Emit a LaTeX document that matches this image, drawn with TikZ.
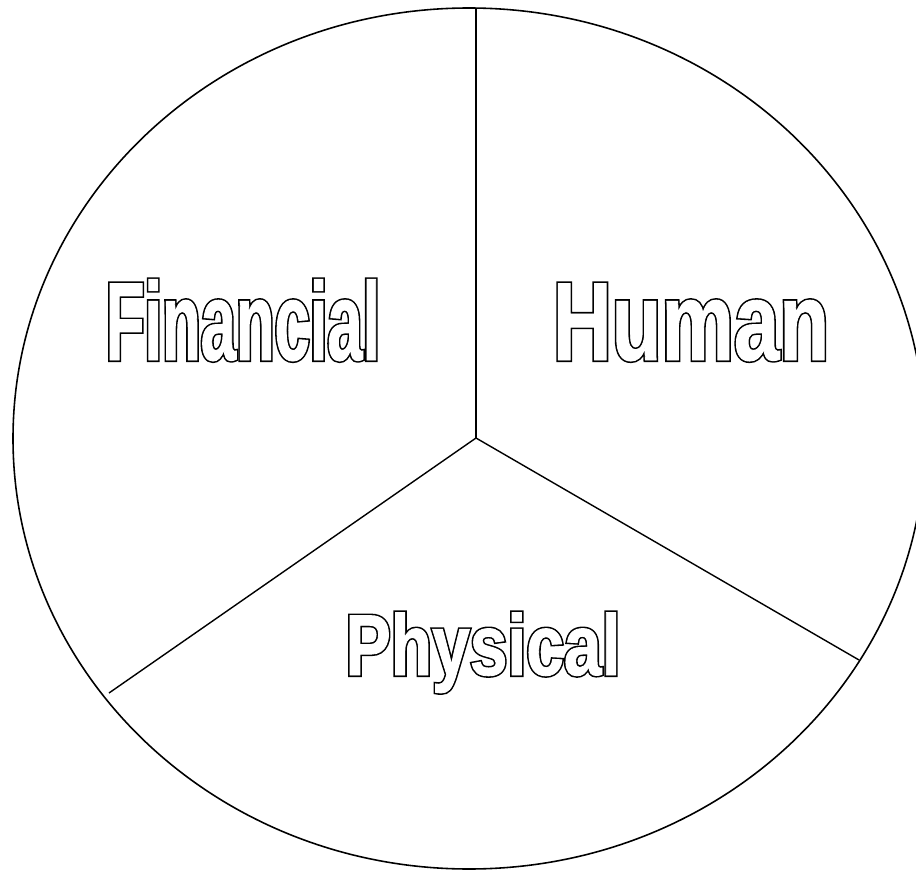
\documentclass[tikz,border=0pt]{standalone}
\usepackage{fontspec}
\usetikzlibrary{shapes,positioning}
\newfontfamily\finfont[FakeStretch=0.569]{Liberation Sans Bold}
\newfontfamily\humfont[FakeStretch=0.733]{Liberation Sans Bold}
\newfontfamily\phyfont[FakeStretch=0.785]{Liberation Sans Bold}
% outlined letters: thick black stroke, then white fill on top
\newcommand{\hollowtext}[1]{\rlap{\special{pdf:code 1 Tr 2.3 w}#1}{\color{white}\special{pdf:code 2 Tr 0.5 w}#1}\special{pdf:code 0 Tr}}

\tikzset{
  capital/.style={inner sep=0pt, anchor=base, text=black},
  spoke/.style={draw=black, line width=0.8pt}
}

\begin{document}
\begin{tikzpicture}[x=0.02cm, y=-0.02cm]
\useasboundingbox (0,0) rectangle (916,871);

\node[draw, ellipse, line width=0.9pt, minimum width=912*0.02cm, minimum height=861*0.02cm, inner sep=0pt] (wheel) at (469,438.5) {};

\coordinate (hub) at (476,438);
\coordinate (top) at (476,8);
\coordinate (right) at (859,660);
\coordinate (left) at (109,693);

\draw[spoke] (hub) -- (top);
\draw[spoke] (hub) -- (right);
\draw[spoke] (hub) -- (left);

\node[capital, font=\finfont\fontsize{63.3}{68}\selectfont] (Financial) at (243,360) {\hollowtext{Financial}};
\node[capital, font=\humfont\fontsize{63.3}{68}\selectfont] (Human) at (691,360) {\hollowtext{Human}};
\node[capital, font=\phyfont\fontsize{49.1}{53}\selectfont] (Physical) at (483,675) {\hollowtext{Physical}};

\end{tikzpicture}
\end{document}
